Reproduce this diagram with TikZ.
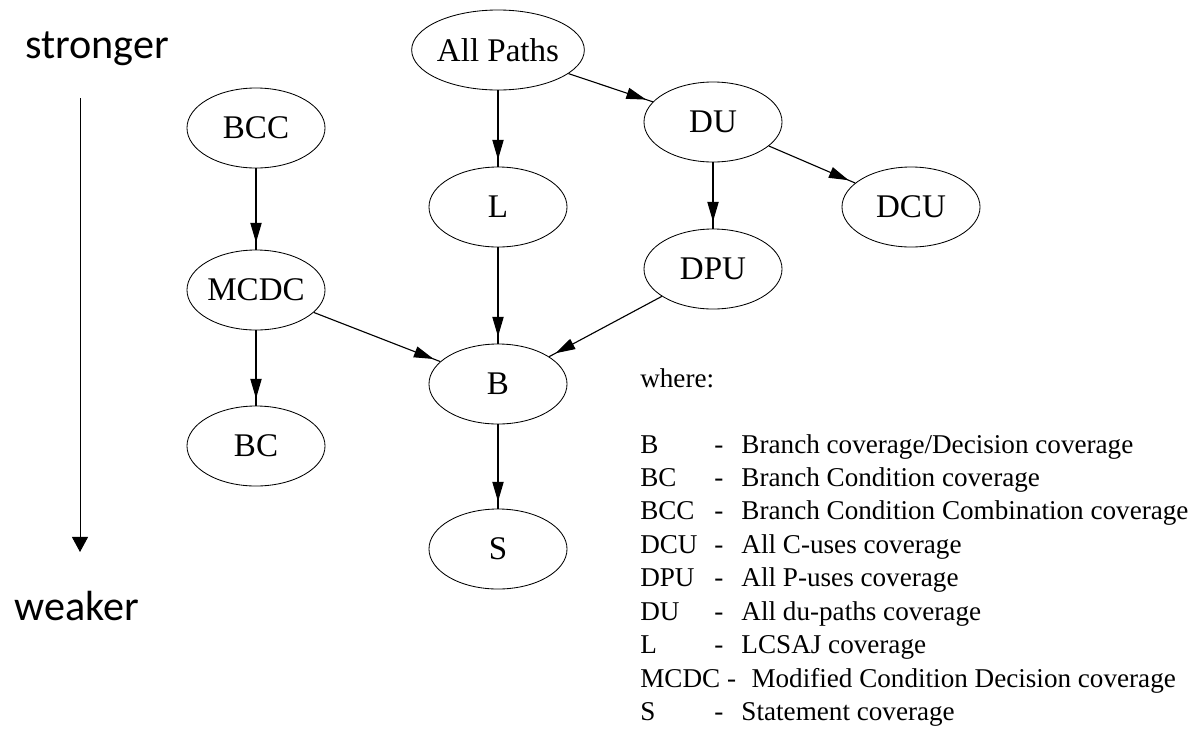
\documentclass[tikz,border=0pt]{standalone}
\usepackage{fontspec}
\setmainfont{Liberation Serif}
\newfontfamily\calibri{Carlito}
\usetikzlibrary{shapes}
\usetikzlibrary{arrows.meta}
\usetikzlibrary{decorations.markings}
\tikzset{
	cov_n/.style = {ellipse, draw=black, line width=0.6pt, inner sep=0pt,
		minimum width=3.45cm, minimum height=2cm,
		font=\fontsize{23.5}{27}\selectfont},% noeud de couverture
	cov_e/.style = {draw, line width=0.8pt, postaction={decorate},
		decoration={markings, mark=at position -5pt with
			{\arrow{Triangle[length=14pt,width=8pt]}}}},% arc, pointe avant le bord
	side_t/.style = {font=\calibri\fontsize{30}{34}\selectfont, anchor=base},% stronger / weaker
	leg_t/.style = {anchor=base west, inner sep=0pt,
		font=\fontsize{19.3}{23.8}\selectfont}% legende
}
\begin{document}
\begin{tikzpicture}[x=0.025cm, y=-0.025cm]
		\useasboundingbox (0,0) rectangle (1194,731);
		% echelle a gauche
		\node [side_t] (strong) at (97,58) {stronger};
		\node [side_t] (weak) at (77,620) {weaker};
		\coordinate (sc_top) at (80,98);
		\coordinate (sc_bot) at (80,552);
		\draw [line width=0.7pt, -{Triangle[length=10.7pt,width=11.4pt]}] (sc_top) -- (sc_bot);
		% noeuds
		\node [cov_n] (allp) at (498,50) {All Paths};
		\node [cov_n] (bcc) at (256,128) {BCC};
		\node [cov_n] (du) at (713,122) {DU};
		\node [cov_n] (l) at (498,207) {L};
		\node [cov_n] (dcu) at (911,207) {DCU};
		\node [cov_n] (mcdc) at (256,290) {MCDC};
		\node [cov_n] (dpu) at (713,269) {DPU};
		\node [cov_n] (b) at (498,384) {B};
		\node [cov_n] (bc) at (256,446) {BC};
		\node [cov_n] (s) at (498,549) {S};
		% arcs
		\path [cov_e] (allp) -- (l);
		\path [cov_e] (allp) -- (du);
		\path [cov_e] (du) -- (dcu);
		\path [cov_e] (du) -- (dpu);
		\path [cov_e] (bcc) -- (mcdc);
		\path [cov_e] (mcdc) -- (bc);
		\path [cov_e] (mcdc) -- (b);
		\path [cov_e] (l) -- (b);
		\path [cov_e] (dpu) -- (b);
		\path [cov_e] (b) -- (s);
		% legende
		\node [leg_t] (where) at (640,387) {where:};
		\node [leg_t] (legend) at (640,453) {%
			\begin{tabular}[t]{@{}p{1.85cm}@{}p{0.68cm}@{}l@{}}
				B & - & Branch coverage/Decision coverage\\
				BC & - & Branch Condition coverage\\
				BCC & - & Branch Condition Combination coverage\\
				DCU & - & All C-uses coverage\\
				DPU & - & All P-uses coverage\\
				DU & - & All du-paths coverage\\
				L & - & LCSAJ coverage\\
				\multicolumn{2}{@{}l@{}}{MCDC -} & \hspace{0.25cm}Modified Condition Decision coverage\\
				S & - & Statement coverage
			\end{tabular}};
		\end{tikzpicture}
\end{document}
